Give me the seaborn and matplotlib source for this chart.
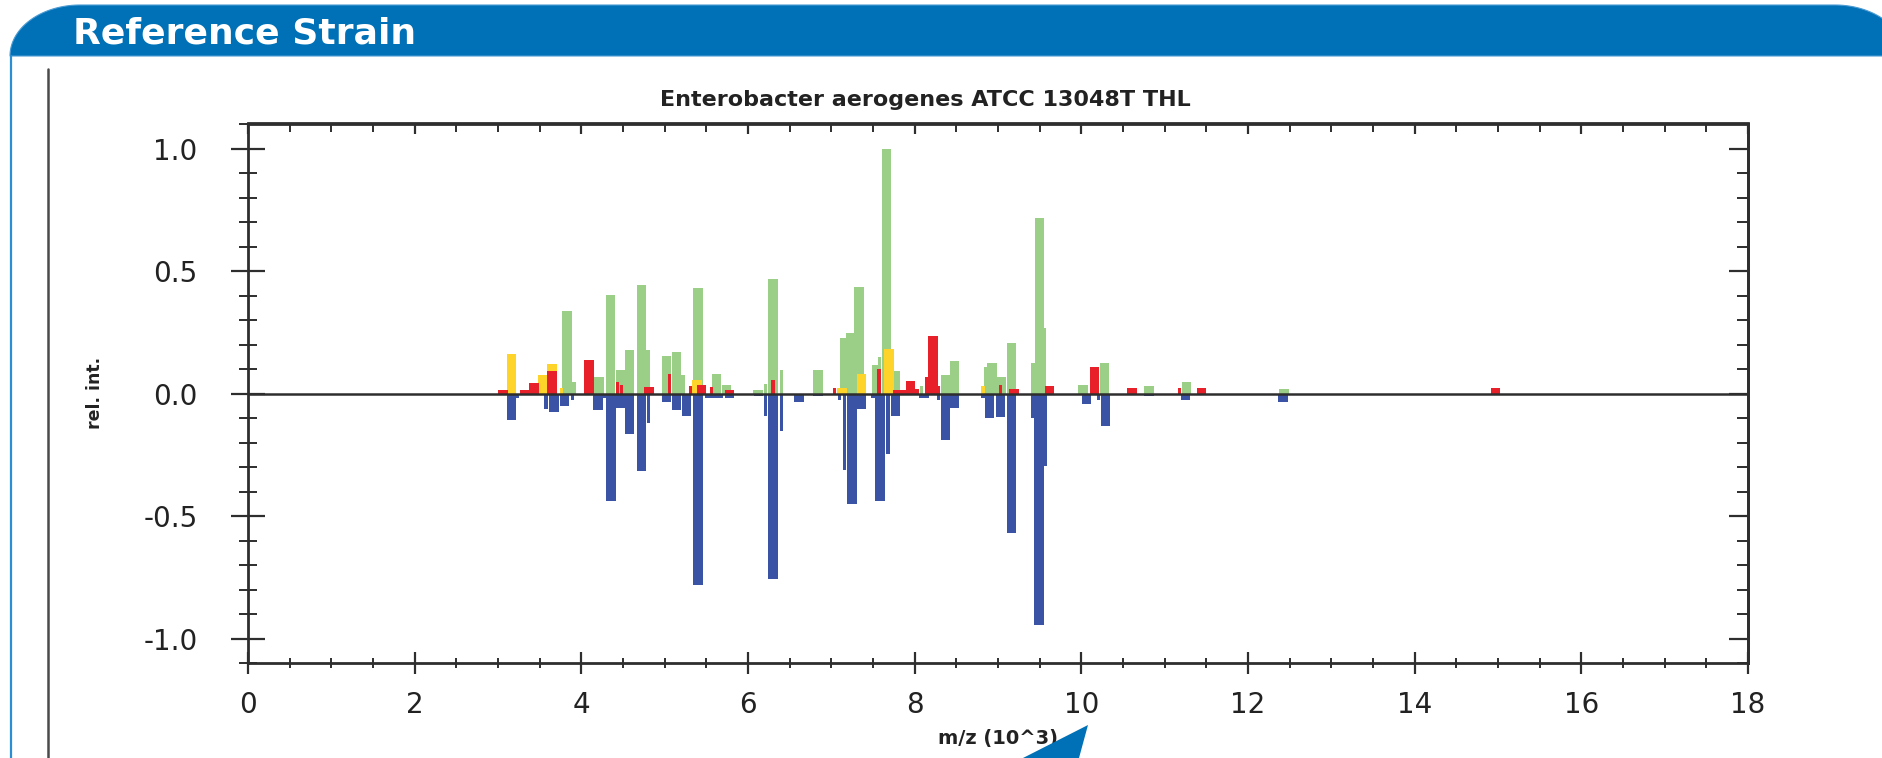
import numpy as np
import matplotlib
matplotlib.use("Agg")
import matplotlib.pyplot as plt
import seaborn as sns
from matplotlib.patches import Polygon
from matplotlib.lines import Line2D
from matplotlib.ticker import MultipleLocator, FixedLocator

# ---------------- data ----------------
header_text = "Reference Strain"
title_text = "Enterobacter aerogenes ATCC 13048T THL"
x_label = "m/z (10^3)"
y_label = "rel. int."
x_ticks = [0, 2, 4, 6, 8, 10, 12, 14, 16, 18]
y_ticks = [-1.0, -0.5, 0.0, 0.5, 1.0]
y_ticklabels = ["-1.0", "-0.5", "0.0", "0.5", "1.0"]

# reference spectrum peaks (m/z in 10^3), coloured by match status
green_mz = [3.83, 4.21, 4.35, 4.47, 4.58, 4.72, 5.02, 5.14, 5.40, 5.62, 5.74,
            6.12, 6.30, 6.84, 7.16, 7.23, 7.33, 7.54, 7.66, 7.77, 8.37, 8.48,
            8.93, 9.04, 9.16, 9.50, 10.02, 10.28, 10.81, 11.26, 12.43]
green_int = [0.34, 0.07, 0.405, 0.098, 0.18, 0.446, 0.155, 0.17, 0.43, 0.082, 0.034,
             0.016, 0.47, 0.095, 0.227, 0.25, 0.437, 0.118, 1.0, 0.091, 0.078, 0.135,
             0.125, 0.068, 0.207, 0.717, 0.037, 0.125, 0.03, 0.05, 0.019]
green_thin_mz = [3.91, 4.80, 5.22, 6.21, 6.40, 7.58, 8.08, 8.85, 9.42, 9.56]
green_thin_int = [0.048, 0.18, 0.075, 0.04, 0.095, 0.15, 0.03, 0.109, 0.125, 0.27]

yellow_mz = [3.16, 3.54, 3.65, 5.39, 7.13, 7.36, 7.69]
yellow_int = [0.163, 0.075, 0.122, 0.057, 0.024, 0.082, 0.182]
yellow_thin_mz = [3.76, 8.82]
yellow_thin_int = [0.023, 0.03]

red_mz = [3.06, 3.32, 3.43, 3.65, 4.09, 4.81, 5.44, 5.78, 7.80, 7.86, 7.95,
          8.22, 9.19, 9.62, 10.16, 10.61, 11.44, 14.97]
red_int = [0.016, 0.016, 0.044, 0.091, 0.139, 0.027, 0.034, 0.016, 0.016, 0.016, 0.054,
           0.237, 0.019, 0.03, 0.109, 0.023, 0.023, 0.025]
red_thin_mz = [4.43, 4.48, 5.06, 5.31, 5.56, 6.30, 7.04, 7.57, 8.03, 8.14, 8.29, 9.03, 11.18]
red_thin_int = [0.05, 0.034, 0.08, 0.03, 0.027, 0.057, 0.024, 0.10, 0.019, 0.068, 0.03, 0.037, 0.023]

# sample spectrum (drawn downwards)
blue_mz = [3.16, 3.67, 3.80, 4.20, 4.356, 4.47, 4.578, 4.724, 5.024, 5.144, 5.264,
           5.40, 5.54, 5.64, 5.78, 6.124, 6.30, 6.61, 6.84, 7.25, 7.36, 7.584, 7.77,
           8.11, 8.37, 8.48, 8.90, 9.03, 9.16, 9.495, 10.06, 10.29, 10.81, 11.25, 12.42]
blue_int = [-0.106, -0.075, -0.052, -0.065, -0.44, -0.058, -0.163, -0.317, -0.035, -0.065, -0.09,
            -0.78, -0.018, -0.018, -0.018, -0.008, -0.756, -0.035, -0.008, -0.45, -0.063, -0.44, -0.09,
            -0.018, -0.19, -0.058, -0.1, -0.093, -0.57, -0.943, -0.04, -0.133, -0.008, -0.027, -0.035]
blue_thin_mz = [3.23, 3.575, 3.89, 4.28, 4.81, 6.21, 6.40, 7.10, 7.16, 7.50, 7.68,
                8.29, 8.82, 9.42, 9.57, 10.21]
blue_thin_int = [-0.018, -0.063, -0.027, -0.018, -0.12, -0.09, -0.154, -0.027, -0.31, -0.018, -0.245,
                 -0.027, -0.018, -0.1, -0.294, -0.027]

# ---------------- style ----------------
sns.set_theme(style="ticks")
plt.rcParams['font.family'] = ['DejaVu Sans']
plt.rcParams['axes.unicode_minus'] = False

GREEN = "#9BCE87"
YELLOW = "#FFD42A"
RED = "#E8202A"
BLUE = "#3A53A4"
HEADER_BLUE = "#0071B6"
INK = "#2E2E2E"
WIDE = 0.115
THIN = 0.04

W, H = 1883, 758
fig = plt.figure(figsize=(W / 100, H / 100), dpi=100)
fig.patch.set_facecolor("white")


def fx(px):
    return px / W


def fy(py):
    return 1 - py / H


# header bar with rounded corners
t_left = np.linspace(np.pi, np.pi / 2, 40)
t_right = np.linspace(np.pi / 2, 0, 40)
xs = np.concatenate([80 + 70 * np.cos(t_left), 1835 + 70 * np.cos(t_right), [1905, 10]])
ys = np.concatenate([56 - 51 * np.sin(t_left), 56 - 51 * np.sin(t_right), [56, 56]])
fig.add_artist(Polygon(np.column_stack([fx(xs), fy(ys)]), closed=True,
                       transform=fig.transFigure, facecolor=HEADER_BLUE,
                       edgecolor="#4C9BD3", lw=0.8))
fig.text(fx(73), fy(44), header_text, ha="left", va="baseline",
         fontsize=26, fontweight="bold", color="white")

# frame lines
fig.add_artist(Line2D([fx(11), fx(11)], [fy(56), fy(760)], color="#2A8ED4", lw=1.6,
                      transform=fig.transFigure))
fig.add_artist(Line2D([fx(48), fx(48)], [fy(69), fy(760)], color="#4A4A4A", lw=1.8,
                      transform=fig.transFigure))
# speech-bubble pointer
fig.add_artist(Polygon([[fx(1023), fy(758)], [fx(1088), fy(725)], [fx(1079), fy(758)]],
                       closed=True, transform=fig.transFigure, facecolor=HEADER_BLUE,
                       edgecolor="none"))

# ---------------- axes ----------------
ax = fig.add_axes([fx(248), fy(663), fx(1748) - fx(248), fy(123.5) - fy(663)])
ax.set_facecolor("white")

ax.bar(green_mz, green_int, width=WIDE, color=GREEN, linewidth=0, zorder=2)
ax.bar(green_thin_mz, green_thin_int, width=THIN, color=GREEN, linewidth=0, zorder=2)
ax.bar(yellow_mz, yellow_int, width=WIDE, color=YELLOW, linewidth=0, zorder=3)
ax.bar(yellow_thin_mz, yellow_thin_int, width=THIN, color=YELLOW, linewidth=0, zorder=3)
ax.bar(red_mz, red_int, width=WIDE, color=RED, linewidth=0, zorder=4)
ax.bar(red_thin_mz, red_thin_int, width=THIN, color=RED, linewidth=0, zorder=4)
ax.bar(blue_mz, blue_int, width=WIDE, color=BLUE, linewidth=0, zorder=2)
ax.bar(blue_thin_mz, blue_thin_int, width=THIN, color=BLUE, linewidth=0, zorder=2)
ax.axhline(0, color=INK, lw=1.8, zorder=6)

ax.set_xlim(0, 18)
ax.set_ylim(-1.1, 1.104)

for s in ax.spines.values():
    s.set_color(INK)
    s.set_linewidth(2.0)
    s.set_zorder(7)

ax.xaxis.set_major_locator(FixedLocator(x_ticks))
ax.xaxis.set_minor_locator(MultipleLocator(0.5))
ax.set_xticklabels([str(v) for v in x_ticks])
ax.yaxis.set_major_locator(FixedLocator(y_ticks))
ax.yaxis.set_minor_locator(MultipleLocator(0.1))
ax.set_yticklabels(y_ticklabels)

ax.tick_params(axis="x", which="major", direction="inout", length=15.8, width=1.6,
               pad=12, labelsize=20, color=INK, labelcolor="#222222",
               bottom=True, top=False)
ax.tick_params(axis="x", which="minor", direction="inout", length=7.5, width=1.4,
               color=INK, bottom=True, top=False)
ax.tick_params(axis="y", which="major", direction="inout", length=24.5, width=1.6,
               pad=24, labelsize=20, color=INK, labelcolor="#222222",
               left=True, right=False)
ax.tick_params(axis="y", which="minor", direction="inout", length=13, width=1.4,
               color=INK, left=True, right=False)

# inward ticks on top and right
sec_top = ax.secondary_xaxis("top")
sec_top.xaxis.set_major_locator(FixedLocator(x_ticks))
sec_top.xaxis.set_minor_locator(MultipleLocator(0.5))
sec_top.tick_params(axis="x", which="major", direction="in", length=8, width=1.6,
                    color=INK, labeltop=False, labelbottom=False)
sec_top.tick_params(axis="x", which="minor", direction="in", length=6.5, width=1.4,
                    color=INK)
sec_top.spines["top"].set_color(INK)
sec_top.spines["top"].set_linewidth(2.0)

sec_right = ax.secondary_yaxis("right")
sec_right.yaxis.set_major_locator(FixedLocator(y_ticks))
sec_right.yaxis.set_minor_locator(MultipleLocator(0.1))
sec_right.tick_params(axis="y", which="major", direction="in", length=13.4, width=1.6,
                      color=INK, labelright=False, labelleft=False)
sec_right.tick_params(axis="y", which="minor", direction="in", length=8, width=1.4,
                      color=INK)
sec_right.spines["right"].set_color(INK)
sec_right.spines["right"].set_linewidth(2.0)

ax.set_xlabel(x_label, fontsize=14, fontweight="bold", color="#222222")
ax.xaxis.set_label_coords(0.5, (663 - 729) / 539.5)
ax.set_ylabel(y_label, fontsize=12.5, fontweight="bold", color="#222222")
ax.yaxis.set_label_coords((104 - 248) / 1500, 0.5)

fig.text(fx(925), fy(100), title_text, ha="center", va="center",
         fontsize=16, fontweight="bold", color="#222222")

fig.savefig("out.png", dpi=100, facecolor="white")
